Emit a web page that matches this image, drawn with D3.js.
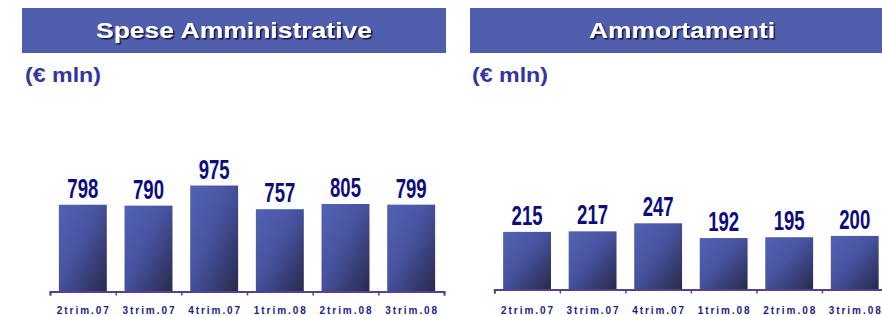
<!DOCTYPE html>
<html><head><meta charset="utf-8">
<script src="https://cdn.jsdelivr.net/npm/d3@7"></script>
<style>body{margin:0;background:#fff}svg{display:block}</style>
</head><body>
<script>
const categories = ["2trim.07","3trim.07","4trim.07","1trim.08","2trim.08","3trim.08"];
const speseValues = [798, 790, 975, 757, 805, 799];
const ammortValues = [215, 217, 247, 192, 195, 200];
const titles = ["Spese Amministrative", "Ammortamenti"];
const unitLabel = "(€ mln)";

const W = 882, H = 316;
const svg = d3.select("body").append("svg").attr("width", W).attr("height", H);
const defs = svg.append("defs");
const grad = defs.append("linearGradient").attr("id","barGrad")
  .attr("x1","0%").attr("y1","0%").attr("x2","100%").attr("y2","100%");
grad.append("stop").attr("offset","0%").attr("stop-color","#5163b3");
grad.append("stop").attr("offset","45%").attr("stop-color","#4853a0");
grad.append("stop").attr("offset","100%").attr("stop-color","#272a4c");
const sh = defs.append("filter").attr("id","shadow").attr("x","-10%").attr("y","-20%").attr("width","120%").attr("height","150%");
sh.append("feDropShadow").attr("dx",1.5).attr("dy",1.5).attr("stdDeviation",0.4).attr("flood-color","#111133").attr("flood-opacity",0.9);

const panels = [
  {title: titles[0], values: speseValues, boxX: 22, titleW: 276, unitX: 25,
   x0: 50, x1: 444, axisY: 291.5, ymax: 1000, hmax: 108.7},
  {title: titles[1], values: ammortValues, boxX: 470, titleW: 186, unitX: 472,
   x0: 494.3, x1: 887.5, axisY: 289.5, ymax: 250, hmax: 67}
];

panels.forEach(p => {
  const g = svg.append("g");
  g.append("rect").attr("x", p.boxX).attr("y", 8).attr("width", 424).attr("height", 45).attr("fill", "#4f5fae");
  g.append("text").attr("x", p.boxX + 212).attr("y", 38).attr("text-anchor","middle")
    .attr("font-family","Liberation Sans, Arial, sans-serif").attr("font-weight","bold").attr("font-size", 22.5)
    .attr("fill","#fff").attr("filter","url(#shadow)")
    .attr("textLength", p.titleW).attr("lengthAdjust","spacingAndGlyphs").text(p.title);
  g.append("text").attr("x", p.unitX).attr("y", 82).attr("font-family","Liberation Sans, Arial, sans-serif")
    .attr("font-weight","bold").attr("font-size", 20).attr("fill","#3535a0")
    .attr("textLength", 76).attr("lengthAdjust","spacingAndGlyphs").text(unitLabel);

  const x = d3.scaleBand().domain(categories).range([p.x0, p.x1]).paddingInner(0.27).paddingOuter(0.135);
  const y = d3.scaleLinear().domain([0, p.ymax]).range([p.axisY, p.axisY - p.hmax]);

  g.selectAll(".bar").data(p.values).join("rect")
    .attr("x", (d,i) => x(categories[i])).attr("width", x.bandwidth())
    .attr("y", d => y(d)).attr("height", d => p.axisY - y(d))
    .attr("fill","url(#barGrad)");

  g.selectAll(".val").data(p.values).join("text")
    .attr("x", (d,i) => x(categories[i]) + x.bandwidth()/2)
    .attr("y", d => y(d) - 7).attr("text-anchor","middle")
    .attr("font-family","Liberation Sans Narrow, Arial Narrow, Liberation Sans, sans-serif")
    .attr("font-weight","bold").attr("font-size", 27).attr("fill","#0c0c7c")
    .attr("textLength", 31).attr("lengthAdjust","spacingAndGlyphs")
    .text(d => d);

  const axisScale = d3.scaleLinear().domain([0, categories.length]).range([p.x0, p.x1]);
  const axis = d3.axisBottom(axisScale).ticks(categories.length).tickFormat("").tickSizeInner(4).tickSizeOuter(4);
  const ag = g.append("g").attr("transform", `translate(0,${p.axisY})`).call(axis);
  ag.select(".domain").attr("stroke","#5b3f8c").attr("stroke-width",2);
  ag.selectAll(".tick line").attr("stroke","#5b3f8c").attr("stroke-width",1.5);

  g.selectAll(".cat").data(categories).join("text")
    .attr("x", d => x(d) + x.bandwidth()/2).attr("y", 313.5).attr("text-anchor","middle")
    .attr("font-family","Liberation Sans, Arial, sans-serif").attr("font-weight","bold").attr("font-size", 10)
    .attr("fill","#1c1c88").attr("textLength", 52).attr("lengthAdjust","spacing")
    .text(d => d);
});
</script>
</body></html>
